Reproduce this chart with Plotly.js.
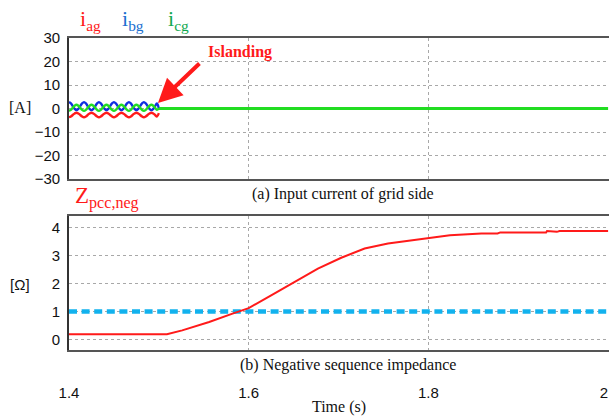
<!DOCTYPE html>
<html>
<head>
<meta charset="utf-8">
<script src="https://cdn.plot.ly/plotly-3.0.1.min.js"></script>
<style>html,body{margin:0;padding:0;background:#fff;}#chart{width:609px;height:416px;}</style>
</head>
<body>
<div id="chart"></div>
<script>
// ---- Data ----
// (a) grid-side input currents before islanding
var tPre = [1.4, 1.4021, 1.4042, 1.4063, 1.4083, 1.4104, 1.4125, 1.4146, 1.4167, 1.4188,
            1.4208, 1.4229, 1.425, 1.4271, 1.4292, 1.4313, 1.4333, 1.4354, 1.4375, 1.4396,
            1.4417, 1.4438, 1.4458, 1.4479, 1.45, 1.4521, 1.4542, 1.4563, 1.4583, 1.4604,
            1.4625, 1.4646, 1.4667, 1.4688, 1.4708, 1.4729, 1.475, 1.4771, 1.4792, 1.4813,
            1.4833, 1.4854, 1.4875, 1.4896, 1.4917, 1.4938, 1.4958, 1.4979, 1.5];
var iag = [-3.7, -3.4, -2.75, -2.1, -1.8, -2.1, -2.75, -3.4,
           -3.7, -3.4, -2.75, -2.1, -1.8, -2.1, -2.75, -3.4,
           -3.7, -3.4, -2.75, -2.1, -1.8, -2.1, -2.75, -3.4,
           -3.7, -3.4, -2.75, -2.1, -1.8, -2.1, -2.75, -3.4,
           -3.7, -3.4, -2.75, -2.1, -1.8, -2.1, -2.75, -3.4,
           -3.7, -3.4, -2.75, -2.1, -1.8, -2.1, -2.75, -3.4, -2.0];
var ibg = [2.7, 2.2, 1.0, -0.2, -0.7, -0.2, 1.0, 2.2,
           2.7, 2.2, 1.0, -0.2, -0.7, -0.2, 1.0, 2.2,
           2.7, 2.2, 1.0, -0.2, -0.7, -0.2, 1.0, 2.2,
           2.7, 2.2, 1.0, -0.2, -0.7, -0.2, 1.0, 2.2,
           2.7, 2.2, 1.0, -0.2, -0.7, -0.2, 1.0, 2.2,
           2.7, 2.2, 1.0, -0.2, -0.7, -0.2, 1.0, 2.2, 0.0];
var icg = [-1.0, -0.6, 0.3, 1.2, 1.6, 1.2, 0.3, -0.6,
           -1.0, -0.6, 0.3, 1.2, 1.6, 1.2, 0.3, -0.6,
           -1.0, -0.6, 0.3, 1.2, 1.6, 1.2, 0.3, -0.6,
           -1.0, -0.6, 0.3, 1.2, 1.6, 1.2, 0.3, -0.6,
           -1.0, -0.6, 0.3, 1.2, 1.6, 1.2, 0.3, -0.6,
           -1.0, -0.6, 0.3, 1.2, 1.6, 1.2, 0.3, -0.6, 0.0];
// after islanding all currents are zero
var tPost = [1.5, 2.0];
var iPost = [0, 0];

// (b) negative sequence impedance
var tZ = [1.4, 1.509, 1.526, 1.556, 1.582, 1.6, 1.625, 1.651, 1.677, 1.703, 1.729, 1.755,
          1.781, 1.8, 1.824, 1.859, 1.877, 1.88, 1.931, 1.932, 1.943, 1.946, 2.0];
var zNeg = [0.18, 0.18, 0.32, 0.62, 0.92, 1.12, 1.58, 2.06, 2.54, 2.93, 3.26, 3.44,
            3.56, 3.65, 3.74, 3.80, 3.80, 3.84, 3.84, 3.89, 3.86, 3.89, 3.89];
var tTh = [1.4, 2.0];
var zTh = [1.0, 1.0];

var xTicks = [1.4, 1.6, 1.8, 2.0];
var xTickText = ['1.4', '1.6', '1.8', '2\u00a0\u00a0'];
var yTicksA = [-30, -20, -10, 0, 10, 20, 30];
var yTicksB = [0, 1, 2, 3, 4];

var RED = '#ff1a1a', BLUE = '#1030e0', GREEN = '#22dd22', CYAN = '#12b2ee';

var traces = [
  {x: tPre, y: iag, mode: 'lines', line: {color: RED, width: 2.4, shape: 'spline'}, xaxis: 'x', yaxis: 'y'},
  {x: tPre, y: ibg, mode: 'lines', line: {color: BLUE, width: 2.4, shape: 'spline'}, xaxis: 'x', yaxis: 'y'},
  {x: tPre, y: icg, mode: 'lines', line: {color: GREEN, width: 2.4, shape: 'spline'}, xaxis: 'x', yaxis: 'y'},
  {x: tPost, y: iPost, mode: 'lines', line: {color: GREEN, width: 2.8}, xaxis: 'x', yaxis: 'y'},
  {x: tTh, y: zTh, mode: 'lines', line: {color: CYAN, width: 4.5, dash: '8px,4.6px'}, xaxis: 'x2', yaxis: 'y2'},
  {x: tZ, y: zNeg, mode: 'lines', line: {color: RED, width: 2}, xaxis: 'x2', yaxis: 'y2'}
];

var H = 416, L = 69, PW = 540;
function fy(px) { return 1 - px / H; }
function fx(px) { return (px - L) / PW; }

var tickFont = {family: 'Liberation Sans, Arial, sans-serif', size: 15, color: '#111'};
var serif = 'Liberation Serif, Times New Roman, serif';

var gridStyle = {showgrid: true, gridcolor: '#a8a8a8', griddash: 'dot', gridwidth: 1, zeroline: false};

var layout = {
  width: 609, height: 416,
  margin: {l: L, r: 0, t: 0, b: 0},
  paper_bgcolor: '#fff', plot_bgcolor: '#fff',
  showlegend: false,
  xaxis: Object.assign({
    domain: [0, 1], range: [1.4, 2.001], anchor: 'y',
    tickvals: xTicks, ticktext: xTickText, showticklabels: false, ticks: '',
    showline: true, mirror: true, linecolor: '#555', linewidth: 1.6
  }, gridStyle),
  yaxis: Object.assign({
    domain: [fy(179), fy(38)], range: [-30, 30], anchor: 'x',
    tickvals: yTicksA, ticks: '', tickfont: tickFont, ticklabelstandoff: 4,
    showline: true, mirror: false, linecolor: '#333', linewidth: 1.8
  }, gridStyle),
  xaxis2: Object.assign({
    domain: [0, 1], range: [1.4, 2.001], anchor: 'y2',
    tickvals: xTicks, ticktext: xTickText, ticks: '', tickfont: tickFont,
    ticklabelstandoff: 28, ticklabeloverflow: 'allow',
    showline: true, mirror: true, linecolor: '#555', linewidth: 1.6,
    title: {text: 'Time (s)', font: {family: serif, size: 16, color: '#111'}, standoff: 11}
  }, gridStyle),
  yaxis2: Object.assign({
    domain: [fy(350), fy(216)], range: [-0.385, 4.43], anchor: 'x2',
    tickvals: yTicksB, ticks: '', tickfont: tickFont, ticklabelstandoff: 4,
    showline: true, mirror: false, linecolor: '#333', linewidth: 1.8
  }, gridStyle),
  annotations: [
    {xref: 'paper', yref: 'paper', x: fx(90), y: fy(20), xanchor: 'center', yanchor: 'middle', showarrow: false,
     text: 'i<sub>ag</sub>', font: {family: serif, size: 22, color: RED}},
    {xref: 'paper', yref: 'paper', x: fx(133), y: fy(20), xanchor: 'center', yanchor: 'middle', showarrow: false,
     text: 'i<sub>bg</sub>', font: {family: serif, size: 22, color: '#1a6fd0'}},
    {xref: 'paper', yref: 'paper', x: fx(178), y: fy(20), xanchor: 'center', yanchor: 'middle', showarrow: false,
     text: 'i<sub>cg</sub>', font: {family: serif, size: 22, color: '#10a850'}},
    {xref: 'paper', yref: 'paper', x: fx(240), y: fy(52), xanchor: 'center', yanchor: 'middle', showarrow: false,
     text: '<b>Islanding</b>', font: {family: serif, size: 16, color: RED}},
    {xref: 'x', yref: 'y', x: 1.499, y: 2.3, ax: 43, ay: -41, axref: 'pixel', ayref: 'pixel',
     text: '', showarrow: true, arrowhead: 2, arrowsize: 1.2, arrowwidth: 4, arrowcolor: RED, standoff: 0},
    {xref: 'paper', yref: 'paper', x: fx(20), y: fy(108), xanchor: 'center', yanchor: 'middle', showarrow: false,
     text: '[A]', font: {family: serif, size: 16, color: '#111'}},
    {xref: 'paper', yref: 'paper', x: fx(343), y: fy(194), xanchor: 'center', yanchor: 'middle', showarrow: false,
     text: '(a) Input current of grid side', font: {family: serif, size: 16, color: '#111'}},
    {xref: 'paper', yref: 'paper', x: fx(73), y: fy(197), xanchor: 'left', yanchor: 'middle', showarrow: false,
     text: 'Z<sub>pcc,neg</sub>', font: {family: serif, size: 23, color: RED}},
    {xref: 'paper', yref: 'paper', x: fx(20), y: fy(284), xanchor: 'center', yanchor: 'middle', showarrow: false,
     text: '[Ω]', font: {family: 'Liberation Sans, Arial, sans-serif', size: 15, color: '#111'}},
    {xref: 'paper', yref: 'paper', x: fx(348), y: fy(365), xanchor: 'center', yanchor: 'middle', showarrow: false,
     text: '(b) Negative sequence impedance', font: {family: serif, size: 16, color: '#111'}}
  ]
};

Plotly.newPlot('chart', traces, layout, {staticPlot: true, displayModeBar: false});
</script>
</body>
</html>
